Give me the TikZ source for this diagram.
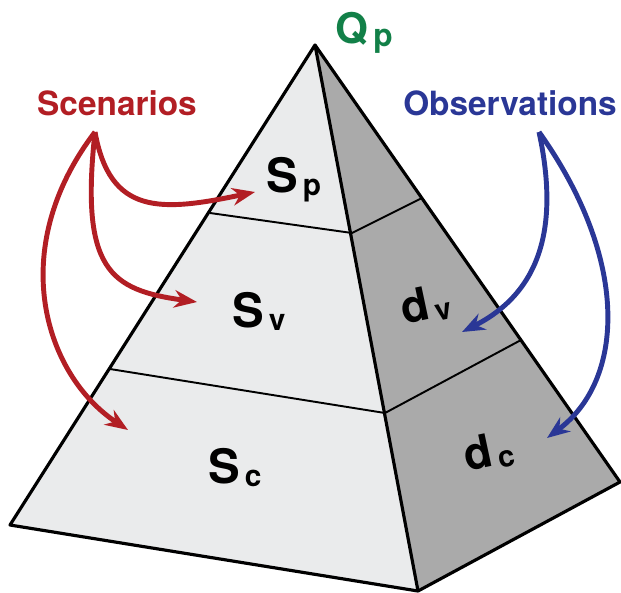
\documentclass[tikz,border=0pt]{standalone}
\usepackage{fontspec}
\setmainfont{TeX Gyre Heros}
\usetikzlibrary{arrows.meta}
\definecolor{scenred}{RGB}{178,30,36}
\definecolor{obsblue}{RGB}{42,55,150}
\definecolor{qgreen}{RGB}{18,128,72}
\definecolor{lightface}{RGB}{234,235,236}
\definecolor{darkface}{RGB}{170,170,170}
\newcommand{\pyrsub}[4]{{\fontsize{#1pt}{#1pt}\selectfont #3}\raisebox{-0.22em}{\fontsize{#2pt}{#2pt}\selectfont\,#4}}

\begin{document}
\begin{tikzpicture}[x=0.02cm, y=-0.02cm, >={Stealth[length=13pt,width=10pt]},
    edgeline/.style={line width=1.8pt, line join=round},
    divline/.style={line width=1.1pt},
    scenarrow/.style={->, draw=scenred, line width=2.8pt},
    obsarrow/.style={->, draw=obsblue, line width=2.8pt},
    txt/.style={inner sep=0pt, anchor=base west, font=\bfseries},
    head/.style={inner sep=0pt, font=\fontsize{19pt}{19pt}\selectfont\bfseries}]
        \useasboundingbox (0,0) rectangle (621,592);
        \coordinate (apex) at (315,45);
        \coordinate (bl) at (10,525);
        \coordinate (bf) at (418,591);
        \coordinate (br) at (620,482);
        \coordinate (l1) at (210,213);
        \coordinate (f1) at (352,233);
        \coordinate (r1) at (422,198);
        \coordinate (l2) at (110,369);
        \coordinate (f2) at (385,413);
        \coordinate (r2) at (521,340);
        \fill[lightface] (apex) -- (bl) -- (bf) -- cycle;
        \fill[darkface] (apex) -- (bf) -- (br) -- cycle;
        \draw[divline] (l1) -- (f1) -- (r1);
        \draw[divline] (l2) -- (f2) -- (r2);
        \draw[edgeline] (apex) -- (bl) -- (bf) -- (br) -- cycle;
        \draw[edgeline] (apex) -- (bf);
        \node[txt, text=qgreen] (qp) at (335,43) {\pyrsub{24}{18}{Q}{p}};
        \node[head, text=scenred] (scenarios) at (117,103) {Scenarios};
        \node[head, text=obsblue] (observations) at (510,103) {Observations};
        \node[txt] (sp) at (266,192) {\pyrsub{27}{17}{S}{p}};
        \node[txt] (sv) at (232,327) {\pyrsub{27}{17}{S}{v}};
        \node[txt] (sc) at (208,483) {\pyrsub{27}{17}{S}{c}};
        \node[txt, rotate=12] (dv) at (404,325) {\pyrsub{26}{17}{d}{v}};
        \node[txt, rotate=12] (dc) at (467,472) {\pyrsub{26}{17}{d}{c}};
        \coordinate (scenroot) at (95,132);
        \coordinate (obsroot) at (539,132);
        \coordinate (sptip) at (255,192);
        \coordinate (svtip) at (197,302);
        \coordinate (sctip) at (128,430);
        \coordinate (dvtip) at (462,332);
        \coordinate (dctip) at (547,438);
        \draw[scenarrow] (scenroot) .. controls (110,215) and (160,212) .. (sptip);
        \draw[scenarrow] (scenroot) .. controls (80,270) and (110,290) .. (svtip);
        \draw[scenarrow] (scenroot) .. controls (5,250) and (45,375) .. (sctip);
        \draw[obsarrow] (obsroot) .. controls (558,220) and (545,290) .. (dvtip);
        \draw[obsarrow] (obsroot) .. controls (630,260) and (625,380) .. (dctip);
    \end{tikzpicture}
\end{document}
